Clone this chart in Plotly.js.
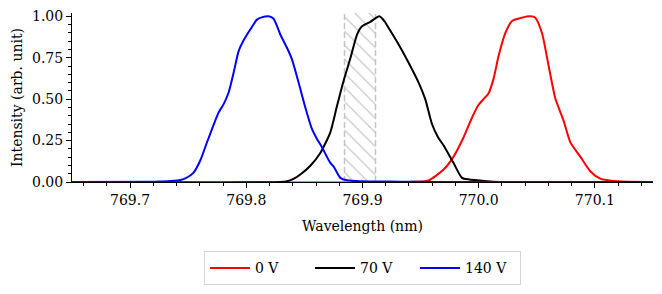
<!DOCTYPE html>
<html>
<head>
<meta charset="utf-8">
<script src="https://cdn.plot.ly/plotly-3.0.1.min.js"></script>
<style>html,body{margin:0;padding:0;background:#fff;}#chart{width:662px;height:294px;}</style>
</head>
<body>
<div id="chart"></div>
<script>
// ---- data ----
const seriesNames = ["0 V", "70 V", "140 V"];
const seriesColors = ["#ff0000", "#000000", "#0000ff"];

const x0V = [769.65, 769.94, 769.9569, 769.9698, 769.9784, 769.9870, 769.9942, 769.9999, 770.0085, 770.0128,
             770.0171, 770.0229, 770.0287, 770.0373, 770.0444, 770.0487, 770.0545, 770.0602, 770.0659, 770.0731,
             770.0788, 770.0874, 770.0960, 770.1046, 770.1190, 770.15];
const y0V = [0, 0, 0.01, 0.075, 0.153, 0.27, 0.388, 0.466, 0.535, 0.624,
             0.76, 0.898, 0.972, 0.992, 1.0, 0.992, 0.898, 0.70, 0.506, 0.369,
             0.241, 0.153, 0.065, 0.02, 0.004, 0];

const x70V = [769.65, 769.8293, 769.8353, 769.8410, 769.8465, 769.8551, 769.8637, 769.8723, 769.8781, 769.8837,
              769.8895, 769.8953, 769.8996, 769.9067, 769.9145, 769.9190, 769.9225, 769.9311, 769.9397, 769.9483,
              769.9540, 769.9598, 769.9650, 769.9698, 769.9784, 769.9856, 769.9920, 769.9985, 770.0126, 770.03, 770.15];
const y70V = [0, 0, 0.005, 0.02, 0.045, 0.098, 0.175, 0.30, 0.46, 0.61,
              0.745, 0.89, 0.94, 0.967, 1.0, 0.97, 0.93, 0.83, 0.72, 0.60,
              0.50, 0.35, 0.27, 0.22, 0.114, 0.025, 0.015, 0.01, 0.002, 0, 0];

const x140V = [769.65, 769.72, 769.7260, 769.7346, 769.7432, 769.7484, 769.7544, 769.7604, 769.7662, 769.7716,
               769.7762, 769.7805, 769.7848, 769.7891, 769.7934, 769.7977, 769.8034, 769.8092, 769.8138, 769.8192,
               769.8235, 769.8293, 769.8350, 769.8393, 769.8450, 769.8508, 769.8565, 769.8608, 769.8651, 769.8688,
               769.8723, 769.8751, 769.8809, 769.8867, 769.8981, 769.9325, 769.9609, 770.15];
const y140V = [0, 0.001, 0.003, 0.006, 0.012, 0.025, 0.055, 0.13, 0.24, 0.34,
               0.42, 0.47, 0.54, 0.66, 0.79, 0.855, 0.92, 0.98, 0.995, 1.0,
               0.985, 0.89, 0.81, 0.74, 0.60, 0.45, 0.32, 0.26, 0.21, 0.16,
               0.115, 0.094, 0.025, 0.01, 0.004, 0.002, 0, 0];

const bandX = [769.8845, 769.9112];
const xTickVals = [769.7, 769.8, 769.9, 770.0, 770.1];
const xTickText = ["769.7", "769.8", "769.9", "770.0", "770.1"];
const yTickVals = [0, 0.25, 0.5, 0.75, 1.0];
const yTickText = ["0.00", "0.25", "0.50", "0.75", "1.00"];
const yTop = 1.02;

// ---- figure ----
const FONT = "DejaVu Serif";
const band = {
  x: [bandX[0], bandX[1], bandX[1], bandX[0], bandX[0]],
  y: [0, 0, yTop, yTop, 0],
  mode: "lines", fill: "toself", line: {width: 0, color: "rgba(0,0,0,0)"},
  fillcolor: "rgba(0,0,0,0)",
  fillpattern: {shape: "\\", fgcolor: "#c8c8c8", bgcolor: "rgba(0,0,0,0)", size: 10, solidity: 0.12},
  showlegend: false, hoverinfo: "skip"
};
const xs = [x0V, x70V, x140V], ys = [y0V, y70V, y140V];
const traces = [band];
for (let i = 0; i < 3; i++) {
  traces.push({x: xs[i], y: ys[i], name: seriesNames[i], mode: "lines",
               line: {color: seriesColors[i], width: 2, shape: "spline", smoothing: 0.6}});
}
const dashLine = xv => ({type: "line", xref: "x", yref: "y", x0: xv, x1: xv, y0: 0, y1: yTop,
                         line: {color: "#c4c4c4", width: 1.5, dash: "6px,3px"}, layer: "below"});
const layout = {
  width: 662, height: 294,
  margin: {l: 72, r: 9, t: 13, b: 108},
  paper_bgcolor: "#fff", plot_bgcolor: "#fff",
  font: {family: FONT, size: 14, color: "#000"},
  showlegend: true,
  legend: {orientation: "h", x: 0.5, xanchor: "center", y: -0.41, yanchor: "top",
           bordercolor: "#d4d4d4", borderwidth: 1, font: {family: FONT, size: 14, color: "#000"},
           traceorder: "normal", itemwidth: 40, entrywidth: 50, entrywidthmode: "pixels"},
  xaxis: {range: [769.65, 770.15], showgrid: false, zeroline: false, showline: true,
          linecolor: "#000", linewidth: 1, ticks: "outside", ticklen: 5, tickwidth: 1, tickcolor: "#000",
          tickvals: xTickVals, ticktext: xTickText, tickfont: {family: FONT, size: 14, color: "#000"},
          minor: {tick0: 769.7, dtick: 0.02, ticks: "outside", ticklen: 3, tickcolor: "#000", showgrid: false},
          title: {text: "Wavelength (nm)", standoff: 14, font: {family: FONT, size: 14, color: "#000"}}},
  yaxis: {range: [0, yTop], showgrid: false, zeroline: false, showline: true,
          linecolor: "#000", linewidth: 1, ticks: "outside", ticklen: 5, tickwidth: 1, tickcolor: "#000",
          tickvals: yTickVals, ticktext: yTickText, tickfont: {family: FONT, size: 14, color: "#000"},
          minor: {tick0: 0, dtick: 0.05, ticks: "outside", ticklen: 3, tickcolor: "#000", showgrid: false},
          title: {text: "Intensity (arb. unit)", standoff: 6, font: {family: FONT, size: 14, color: "#000"}}},
  shapes: [dashLine(bandX[0]), dashLine(bandX[1])]
};
Plotly.newPlot("chart", traces, layout, {displayModeBar: false, staticPlot: true});
</script>
</body>
</html>
